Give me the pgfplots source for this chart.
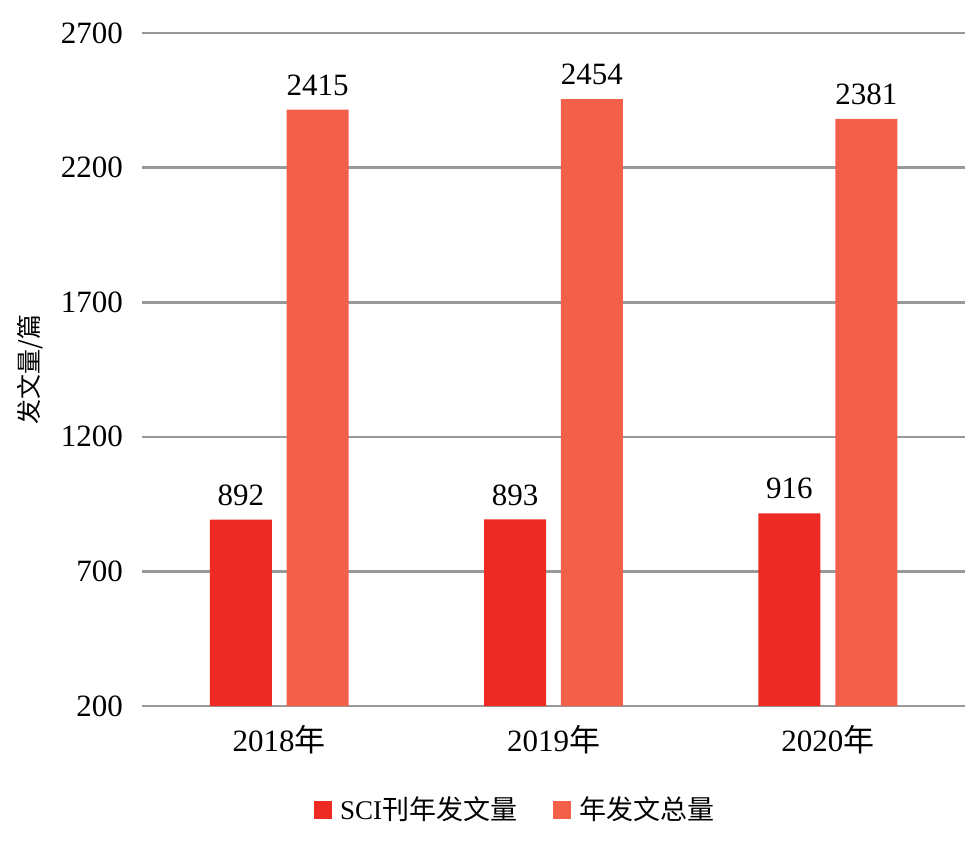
\documentclass[border=0pt]{standalone}
\usepackage{pgfplots}
\pgfplotsset{compat=1.18}
\usepackage{fontspec}
\setmainfont{Liberation Serif}
\newfontfamily\cjk{Noto Sans CJK SC}
\usetikzlibrary{calc}
\definecolor{cA}{HTML}{EE2A24}
\definecolor{cB}{HTML}{F2604A}
\definecolor{gridc}{HTML}{999999}
\begin{document}
\begin{tikzpicture}
\begin{axis}[
  scale only axis,
  width=411.5pt, height=336.5pt,
  ybar, bar width=0.226,
  xmin=-0.5, xmax=2.5,
  ymin=200, ymax=2700,
  ytick={200,700,1200,1700,2200,2700},
  xtick={0,1,2},
  xticklabels={2018{\cjk 年},2019{\cjk 年},2020{\cjk 年}},
  /pgf/number format/assume math mode=true,
  /pgf/number format/1000 sep={},
  axis line style={draw=none},
  major tick length=0pt,
  ymajorgrids, grid style={gridc, line width=1.3pt},
  tick label style={font=\fontsize{15.5}{18}\selectfont},
  yticklabel style={xshift=-6pt},
  xticklabel style={yshift=-6pt},
  ylabel={\cjk 发文量/篇},
  ylabel style={font=\fontsize{12.5}{14}\selectfont, at={(axis description cs:-0.136,0.5)}, anchor=center},
  nodes near coords,
  every node near coord/.append style={font=\fontsize{15.5}{18}\selectfont, yshift=3.5pt, text=black},
  legend style={at={(axis description cs:0.457,0)}, anchor=center, yshift=-52pt, draw=none, legend columns=2, font=\fontsize{13.5}{15}\selectfont\cjk, nodes={inner xsep=4pt}, /tikz/every even column/.append style={column sep=14pt}},
  legend image code/.code={\fill[#1] (0pt,-4.5pt) rectangle (9pt,4.5pt);},
  clip=false,
]
\addplot[fill=cA, draw=none, bar shift=-0.14] coordinates {(0,892) (1,893) (2,916)};
\addplot[fill=cB, draw=none, bar shift=0.14] coordinates {(0,2415) (1,2454) (2,2381)};
\legend{{\setmainfont{Liberation Serif}\fontsize{13.5}{15}\selectfont SCI}刊年发文量, 年发文总量}
\end{axis}
\path ($(current axis.south west)+(-71pt,-67.5pt)$) rectangle ($(current axis.north east)+(6pt,16.5pt)$);
\end{tikzpicture}
\end{document}
